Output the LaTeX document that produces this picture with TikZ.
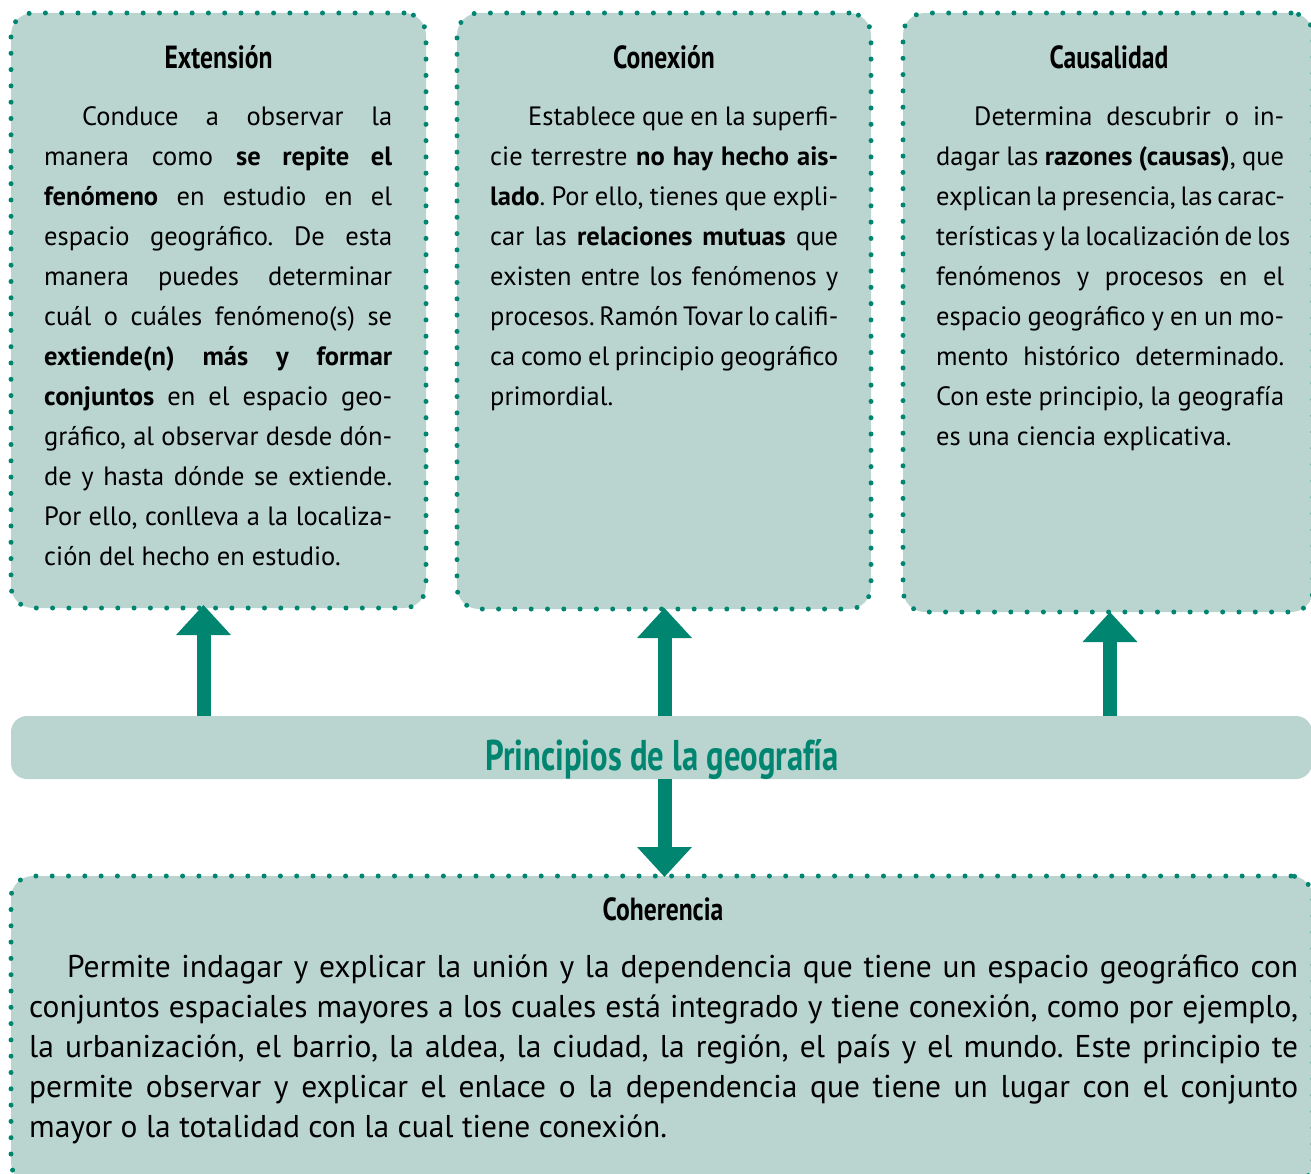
\documentclass[tikz,border=0pt]{standalone}
\usepackage{fontspec}
\usepackage{graphicx}
\setmainfont{PT Sans}
\usetikzlibrary{arrows.meta}
\definecolor{boxfill}{RGB}{186,212,207}
\definecolor{tealc}{RGB}{0,133,112}
\frenchspacing
\newcommand\jl[1]{\hbox to 348pt{#1}}
\newcommand\jlw[1]{\hbox to 1269pt{#1}}
\newcommand\ind{\kern38pt}
\newcommand\cnd[1]{\scalebox{0.8}[1]{#1}}
\begin{document}
\begin{tikzpicture}[x=1pt,y=-1pt,
  panel/.style={rectangle, rounded corners=22pt, fill=boxfill, draw=tealc, line width=5pt, line cap=round, dash pattern=on 0pt off 16.3pt, inner sep=0pt, outer sep=0pt, anchor=north west},
  bar/.style={rectangle, rounded corners=16pt, fill=boxfill, inner sep=0pt, outer sep=0pt, anchor=north west},
  ttl/.style={font=\bfseries\fontsize{32}{32}\selectfont, inner sep=0pt, anchor=base},
  body/.style={inner sep=0pt, anchor=base west, font=\fontsize{26.5}{40}\selectfont},
  bodyw/.style={inner sep=0pt, anchor=base west, font=\fontsize{31.5}{40}\selectfont},
  arr/.style={draw=tealc, line width=14pt, -{Triangle[width=53pt,length=30pt]}}]
\path[use as bounding box] (0,0) rectangle (1311,1174);
\clip (0,0) rectangle (1311,1174);
% panels
\node[panel, minimum width=415pt, minimum height=595pt] (ext) at (11,13) {};
\node[panel, minimum width=414pt, minimum height=596pt] (con) at (457,13) {};
\node[panel, minimum width=410pt, minimum height=599pt] (cau) at (903,13) {};
\node[bar, minimum width=1301pt, minimum height=63pt] (bar) at (11,716) {};
\node[panel, minimum width=1302pt, minimum height=308pt] (coh) at (11,876) {};
% titles
\node[ttl] (t1) at (218.5,69) {\cnd{Extensión}};
\node[ttl] (t2) at (664,69) {\cnd{Conexión}};
\node[ttl] (t3) at (1109,69) {\cnd{Causalidad}};
\node[ttl] (t4) at (663,920) {\cnd{Coherencia}};
\node[ttl, text=tealc, font=\bfseries\fontsize{43}{43}\selectfont] (tb) at (662,770) {\scalebox{0.76}[1]{Principios de la geografía}};
% bodies
\node[body] (b1) at (44,126) {\vtop{%
\jl{\ind Conduce a observar la}
\jl{manera como \textbf{se repite el}}
\jl{\textbf{fenómeno} en estudio en el}
\jl{espacio geográfico. De esta}
\jl{manera puedes determinar}
\jl{cuál o cuáles fenómeno(s) se}
\jl{\textbf{extiende(n) más y formar}}
\jl{\textbf{conjuntos} en el espacio geo-}
\jl{gráfico, al observar desde dón-}
\jl{de y hasta dónde se extiende.}
\jl{Por ello, conlleva a la localiza-}
\hbox{ción del hecho en estudio.}}};
\node[body] (b2) at (490,126) {\vtop{%
\jl{\ind Establece que en la superfi-}
\jl{cie terrestre \textbf{no hay hecho ais-}}
\jl{\textbf{lado}. Por ello, tienes que expli-}
\jl{car las \textbf{relaciones mutuas} que}
\jl{existen entre los fenómenos y}
\jl{procesos. Ramón Tovar lo califi-}
\jl{ca como el principio geográfico}
\hbox{primordial.}}};
\node[body] (b3) at (936,126) {\vtop{%
\jl{\ind Determina descubrir o in-}
\jl{dagar las \textbf{razones (causas)}, que}
\jl{explican la presencia, las carac-}
\jl{terísticas y la localización de los}
\jl{fenómenos y procesos en el}
\jl{espacio geográfico y en un mo-}
\jl{mento histórico determinado.}
\jl{Con este principio, la geografía}
\hbox{es una ciencia explicativa.}}};
\node[bodyw] (b4) at (29,977) {\vtop{%
\jlw{\ind Permite indagar y explicar la unión y la dependencia que tiene un espacio geográfico con}
\jlw{conjuntos espaciales mayores a los cuales está integrado y tiene conexión, como por ejemplo,}
\jlw{la urbanización, el barrio, la aldea, la ciudad, la región, el país y el mundo. Este principio te}
\jlw{permite observar y explicar el enlace o la dependencia que tiene un lugar con el conjunto}
\hbox{mayor o la totalidad con la cual tiene conexión.}}};
% arrows
\coordinate (x1) at (203.5,0);
\coordinate (x2) at (664.5,0);
\coordinate (x3) at (1110,0);
\draw[arr, shorten >=-3pt] (bar.north -| x1) -- (ext.south -| x1);
\draw[arr, shorten >=-1pt] (bar.north -| x2) -- (con.south -| x2);
\draw[arr] (bar.north -| x3) -- (cau.south -| x3);
\draw[arr, shorten >=-1pt] (bar.south -| x2) -- (coh.north -| x2);
\end{tikzpicture}
\end{document}
